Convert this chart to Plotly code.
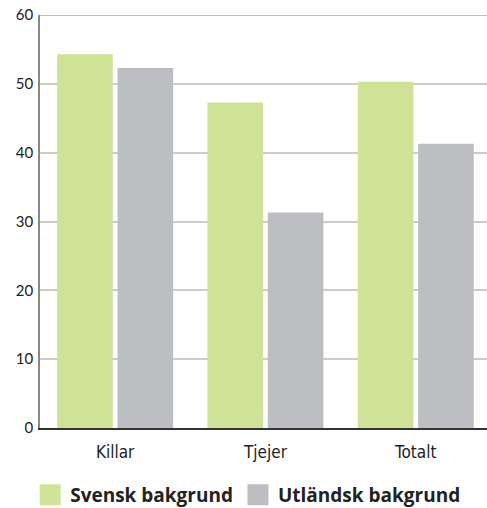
import plotly.graph_objects as go

categories = ["Killar", "Tjejer", "Totalt"]
svensk = [54.3, 47.3, 50.3]
utlandsk = [52.3, 31.3, 41.3]
series_names = ["Svensk bakgrund", "Utländsk bakgrund"]
y_ticks = [0, 10, 20, 30, 40, 50, 60]

GREEN = "#cfe296"
GRAY = "#bdbec1"

fig = go.Figure()
fig.add_trace(go.Bar(x=categories, y=svensk, name=series_names[0],
                     marker=dict(color=GREEN, line=dict(width=0)), showlegend=False))
fig.add_trace(go.Bar(x=categories, y=utlandsk, name=series_names[1],
                     marker=dict(color=GRAY, line=dict(width=0)), showlegend=False))
# legend entries with large square swatches
for nm, col in zip(series_names, [GREEN, GRAY]):
    fig.add_trace(go.Scatter(x=[None], y=[None], mode="markers", name=nm,
                             marker=dict(symbol="square", size=16, color=col,
                                         line=dict(color=col, width=5))))

fig.update_layout(
    width=487, height=508,
    margin=dict(l=40, r=0, t=15, b=80, autoexpand=False),
    paper_bgcolor="white", plot_bgcolor="white",
    barmode="group", bargap=0.197, bargroupgap=0.078,
    showlegend=True,
    legend=dict(orientation="h", x=-0.022, xanchor="left", y=-0.116, yanchor="top",
                font=dict(family="Open Sans, sans-serif", size=19, color="#222", weight="bold"),
                itemsizing="trace", traceorder="normal", itemclick=False,
                bgcolor="rgba(0,0,0,0)"),
    xaxis=dict(range=[-0.5, 2.474], showgrid=False, showline=True, automargin=False,
               linecolor="#333", linewidth=2, ticks="", ticklabelstandoff=8,
               tickfont=dict(family="Liberation Sans Narrow, DejaVu Sans Condensed, sans-serif",
                             size=17, color="#222"), fixedrange=True),
    yaxis=dict(range=[0, 60], tickvals=y_ticks, showgrid=True, gridcolor="#cccccc",
               gridwidth=1.5, showline=True, linecolor="#888", linewidth=1.5,
               zeroline=False, ticks="", ticklabelstandoff=2, automargin=False,
               ticklabeloverflow="allow",
               tickfont=dict(family="Lato, sans-serif", size=15, color="#222"),
               fixedrange=True),
)
fig.add_hline(y=60, line=dict(color="#aaaaaa", width=1.5), layer="below")

# remove the default page margin so the figure fills the window exactly
fig.write_html("out.html", config={"displayModeBar": False},
               post_script="document.body.style.margin='0';document.body.style.padding='0';")
